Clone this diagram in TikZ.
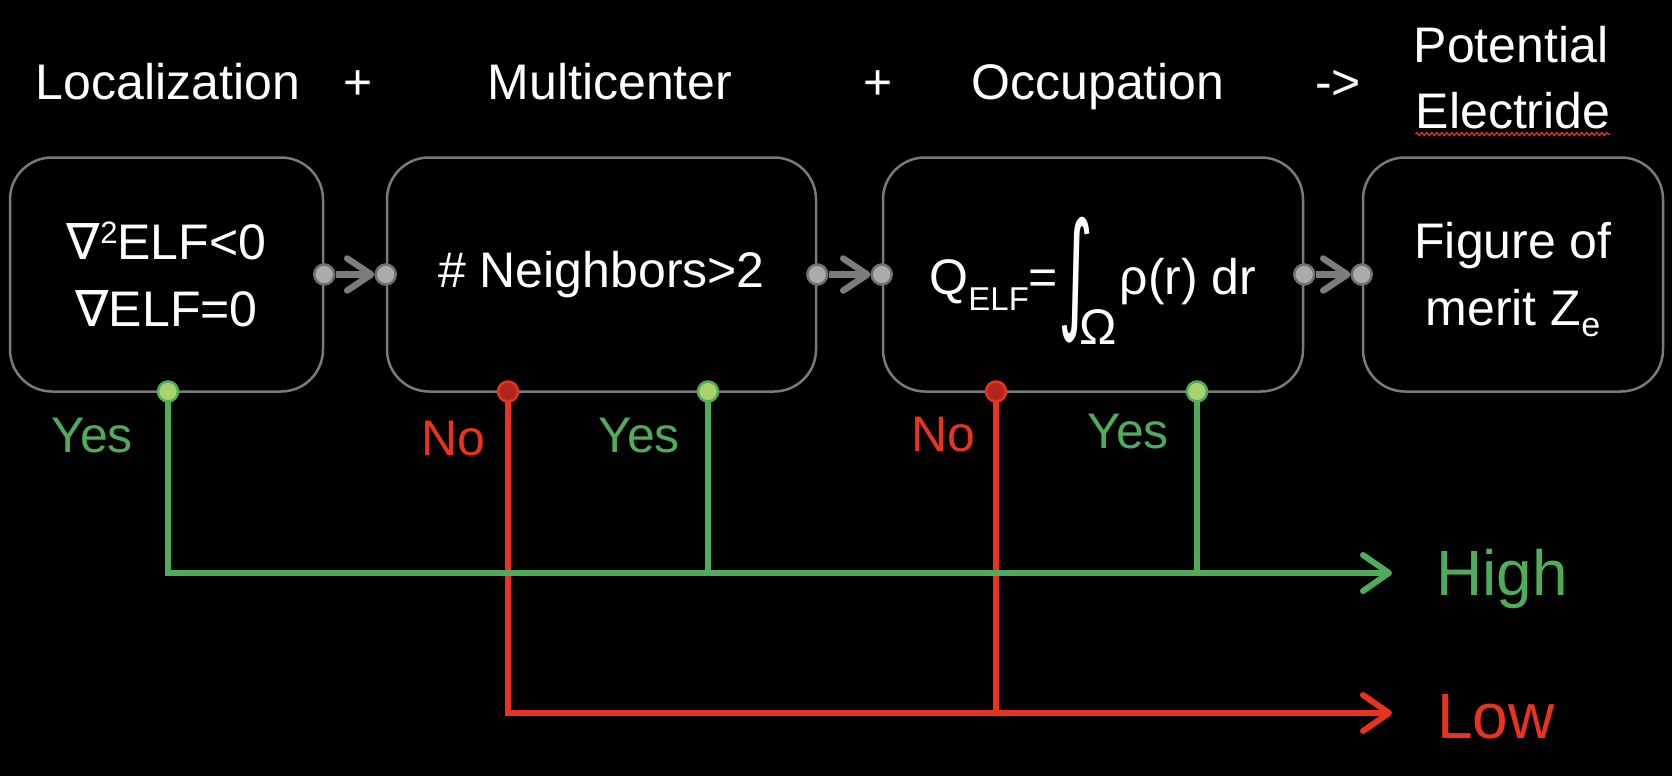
\documentclass[tikz,border=0pt]{standalone}
\usepackage{fontspec}
\usepackage{graphicx}
\setmainfont{Liberation Sans}
\newfontfamily\dejavu{DejaVu Sans}
\usetikzlibrary{arrows.meta,decorations.pathmorphing}
\definecolor{grn}{HTML}{4EAC5B}
\definecolor{lgrn}{HTML}{A8D26B}
\definecolor{rd}{HTML}{E8331F}
\definecolor{drd}{HTML}{B3261B}
\definecolor{boxgray}{HTML}{7A7A7A}
\definecolor{dotfill}{HTML}{ABABAB}
\definecolor{dotborder}{HTML}{707070}
\definecolor{arrgray}{HTML}{7C7C7C}
\newcommand{\myfs}[1]{\fontsize{#1}{#1}\selectfont}
\pgfdeclarelayer{back}
\pgfdeclarelayer{bg}
\pgfsetlayers{back,bg,main}
\begin{document}
\begin{tikzpicture}[x=1pt,y=-1pt,
  box/.style={draw=boxgray, line width=2.5pt, rounded corners=42pt, minimum height=234pt,
    inner sep=0pt, text=white, font={\fontsize{50}{67}\selectfont}, align=center},
  gdot/.style={circle, fill=dotfill, draw=dotborder, line width=2.5pt, minimum size=20pt, inner sep=0pt},
  ydot/.style={circle, fill=lgrn, draw=grn, line width=2.5pt, minimum size=20pt, inner sep=0pt},
  ndot/.style={circle, fill=drd, draw=rd, line width=2.5pt, minimum size=20pt, inner sep=0pt},
  garrow/.style={draw=arrgray, line width=6.5pt, -{Straight Barb[length=24pt,width=32pt,round]}},
  grnline/.style={draw=grn, line width=6pt},
  redline/.style={draw=rd, line width=6pt},
  outarrow/.style={-{Straight Barb[length=26pt,width=36pt,round]}},
  lbl/.style={anchor=base, text=white, font=\myfs{50}, inner sep=0pt},
  yes/.style={anchor=base, text=grn, font=\myfs{50}, inner sep=0pt},
  no/.style={anchor=base, text=rd, font=\myfs{50}, inner sep=0pt},
  big/.style={anchor=base west, font=\myfs{64}, inner sep=0pt}
]
\begin{pgfonlayer}{back}
\fill[black] (0,0) rectangle (1672,776);
\end{pgfonlayer}
\useasboundingbox (0,0) rectangle (1672,776);

% top labels
\node[lbl] (tloc) at (168,99) {Localization};
\node[lbl] (tp1) at (358,99) {+};
\node[lbl] (tmul) at (610,99) {Multicenter};
\node[lbl] (tp2) at (878,99) {+};
\node[lbl] (tocc) at (1098,99) {Occupation};
\node[lbl] (tto) at (1338,99) {->};
\node[lbl] (tpot) at (1511,63) {Potential};
\node[lbl] (tele) at (1513,128) {Electride};
\draw[rd, line width=1.2pt, decorate, decoration={zigzag, amplitude=1.5pt, segment length=5pt}]
  ([yshift=-6pt]tele.base west) -- ([yshift=-6pt]tele.base east);

% boxes
\node[box, minimum width=313pt] (b1) at (166.5,274.5)
  {{\dejavu ∇}\raisebox{16pt}{\myfs{31}2}ELF<0\\{\dejavu ∇}ELF=0};
\node[box, minimum width=429pt] (b2) at (601.5,274.5) {\# Neighbors>2};
\node[box, minimum width=420pt] (b3) at (1093,274.5)
  {\rule[-10pt]{0pt}{60pt}Q\raisebox{-16pt}[0pt][0pt]{\myfs{33}ELF}=\raisebox{-21pt}[0pt][0pt]{\scalebox{1.35}[2.6]{\dejavu ∫}}\kern-14pt\raisebox{-50pt}[0pt][0pt]{Ω}\kern3pt ρ(r) dr};
\node[box, minimum width=300pt] (b4) at (1513,274.5)
  {Figure of\\merit Z\raisebox{-11pt}[0pt][0pt]{\myfs{34}e}};

% side dots and grey arrows
\node[gdot] (r1) at (b1.east) {};
\node[gdot] (l2) at (b2.west) {};
\node[gdot] (r2) at (b2.east) {};
\node[gdot] (l3) at (b3.west) {};
\node[gdot] (r3) at (b3.east) {};
\node[gdot] (l4) at (b4.west) {};
\draw[garrow] (r1) -- (l2);
\draw[garrow] (r2) -- (l3);
\draw[garrow] (r3) -- (l4);

% bottom dots
\node[ydot] (y1) at (168,391.5) {};
\node[ndot] (n2) at (508,391.5) {};
\node[ydot] (y2) at (708,391.5) {};
\node[ndot] (n3) at (996,391.5) {};
\node[ydot] (y3) at (1197,391.5) {};

\coordinate (hi) at (1392,573);
\coordinate (lo) at (1392,713);

\begin{pgfonlayer}{bg}
\draw[redline, outarrow] (n2.center) |- (lo);
\draw[redline] (n3.center) -- (n3.center |- lo);
\draw[grnline, outarrow] (y1.center) |- (hi);
\draw[grnline] (y2.center) -- (y2.center |- hi);
\draw[grnline] (y3.center) -- (y3.center |- hi);
\end{pgfonlayer}

% yes / no labels
\node[yes] (ty1) at (92,452) {Yes};
\node[no] (tn2) at (453,455) {No};
\node[yes] (ty2) at (639,452) {Yes};
\node[no] (tn3) at (943,451) {No};
\node[yes] (ty3) at (1128,448) {Yes};

\node[big, text=grn] (thigh) at (1436,595) {High};
\node[big, text=rd] (tlow) at (1437,738) {Low};
\end{tikzpicture}
\end{document}
